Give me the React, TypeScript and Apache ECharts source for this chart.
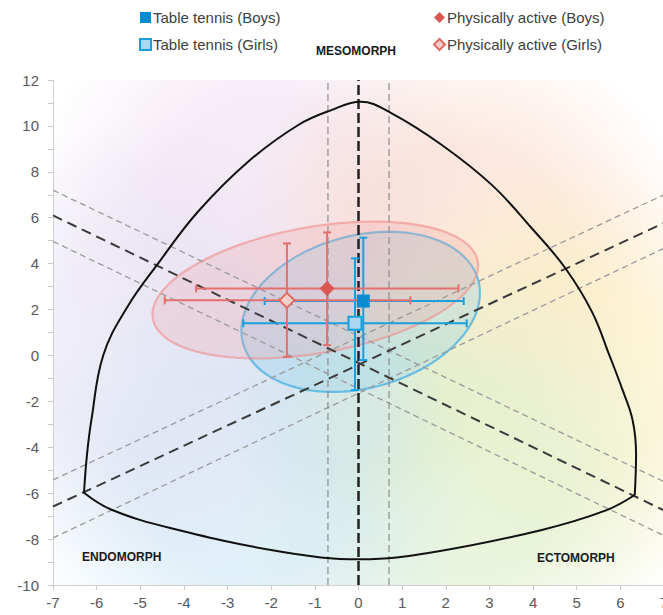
import React, { useEffect, useRef } from "react";
import * as echarts from "echarts";

// ---- group statistics (somatoplot X / Y) ----
const groupNames = [
  "Table tennis (Boys)",
  "Table tennis (Girls)",
  "Physically active (Boys)",
  "Physically active (Girls)",
];
const meanX = [0.11, -0.08, -0.72, -1.64];
const meanY = [2.37, 1.4, 2.92, 2.4];
const xLow = [-2.15, -2.64, -3.72, -4.44];
const xHigh = [2.41, 2.48, 2.29, 1.19];
const yLow = [-0.2, -1.51, 0.45, -0.06];
const yHigh = [5.13, 4.23, 5.36, 4.88];

// ---- dispersion ellipses ----
const ellipseCenterX = [0.05, -0.99];
const ellipseCenterY = [1.9, 2.85];
const ellipseSemiX = [2.79, 3.78];
const ellipseSemiY = [3.32, 2.75];
const ellipseTilt = [15, 10];

// ---- somatochart outline ----
const upperArc: [number, number][] = [
  [-6.29, -5.98], [-6.22, -4.3], [-6.12, -2.81], [-5.85, 0], [-5.3, 2.1],
  [-4.59, 4.01], [-3.68, 6.26], [-2.53, 8.44], [-1.38, 10.04], [-0.62, 10.69],
  [0.05, 11.05], [0.76, 10.55], [1.91, 9.17], [3.06, 7.42], [3.97, 5.54],
  [4.74, 3.8], [5.35, 1.9], [5.75, 0], [6.05, -1.5], [6.28, -2.81],
  [6.36, -4.3], [6.33, -6.08],
];
const lowerArc: [number, number][] = [
  [-6.29, -5.98], [-5.67, -6.71], [-4.29, -7.53], [-1.77, -8.55], [0.05, -8.88],
  [1.77, -8.55], [4.2, -7.6], [5.67, -6.75], [6.33, -6.08],
];

// ---- reference lines ----
const centreX = 0;
const bandX = [-0.7, 0.7];
const fallingLine: [number, number][] = [[-7, 6.1], [7, -6.75]];
const fallingBandUpper: [number, number][] = [[-7, 7.2], [7, -5.5]];
const fallingBandLower: [number, number][] = [[-7, 4.97], [7, -7.85]];
const risingLine: [number, number][] = [[-7, -6.58], [7, 5.77]];
const risingBandUpper: [number, number][] = [[-7, -5.42], [7, 7.0]];
const risingBandLower: [number, number][] = [[-7, -7.95], [7, 4.67]];

const X_MIN = -7, X_MAX = 7, Y_MIN = -10, Y_MAX = 12;

// ---- background tint blobs (centre x, centre y) ----
const tintX = [-2.2, 2.4, 4.6, 2.2, -2.6, -4.8, 0.6, -0.6];
const tintY = [6.5, 4.5, -1.2, -5.2, -5.2, 0.3, -2.5, -2.5];
const tintColors = [
  "rgba(238,220,238,0.55)",
  "rgba(250,214,198,0.55)",
  "rgba(252,240,192,0.6)",
  "rgba(222,240,208,0.65)",
  "rgba(208,232,244,0.65)",
  "rgba(226,222,242,0.5)",
  "rgba(226,240,200,0.5)",
  "rgba(206,228,240,0.5)",
];

const markerColors = ["#0a8ad0", "#a9d8f0", "#d95652", "#f7cfc9"];
const markerBorders = ["#0a8ad0", "#1a9fdc", "#d95652", "#e06a64"];
const barColors = ["#1a9fdc", "#1a9fdc", "#e46f6f", "#e46f6f"];

const FONT = "'Liberation Sans', Arial, sans-serif";

export default function App() {
  const ref = useRef<HTMLDivElement>(null);
  useEffect(() => {
    if (!ref.current) return;
    const chart = echarts.init(ref.current, null, { renderer: "svg" });

    const lineSeries = (data: [number, number][], color: string, width: number, dash: number[], z: number) => ({
      type: "line",
      data,
      symbol: "none",
      silent: true,
      z,
      lineStyle: { color, width, type: dash },
    });

    const scatterSeries = groupNames.map((name, i) => ({
      type: "scatter",
      name,
      z: 10,
      symbol: i < 2 ? "rect" : "diamond",
      symbolSize: i < 2 ? 13 : 15,
      itemStyle: {
        color: markerColors[i],
        borderColor: markerBorders[i],
        borderWidth: i === 1 || i === 3 ? 2 : 0,
        opacity: 1,
      },
      data: [[meanX[i], meanY[i]]],
    }));

    const legendBase = {
      orient: "vertical",
      top: 5,
      itemGap: 12,
      itemWidth: 11,
      itemHeight: 11,
      selectedMode: false,
      textStyle: { color: "#404040", fontSize: 15, fontFamily: FONT, padding: [0, 0, 0, -3] },
    };

    const labelFont = "bold 12px " + FONT;

    const option: any = {
      animation: false,
      grid: { left: 53, right: -1, top: 80, bottom: 30, containLabel: false, outerBoundsMode: "none" },
      xAxis: {
        type: "value",
        min: X_MIN,
        max: X_MAX,
        interval: 1,
        axisLine: { show: true, onZero: false, lineStyle: { color: "#d0d0d0" } },
        axisTick: { show: true, length: 5, lineStyle: { color: "#c8c8c8" } },
        splitLine: { show: false },
        axisLabel: { color: "#595959", fontSize: 15, fontFamily: FONT, margin: 10 },
      },
      yAxis: {
        type: "value",
        min: Y_MIN,
        max: Y_MAX,
        interval: 2,
        axisLine: { show: true, onZero: false, lineStyle: { color: "#d0d0d0" } },
        axisTick: { show: true, length: 5, lineStyle: { color: "#c8c8c8" } },
        minorTick: { show: true, splitNumber: 2, length: 5, lineStyle: { color: "#c8c8c8" } },
        splitLine: { show: false },
        axisLabel: { color: "#595959", fontSize: 15, fontFamily: FONT, margin: 14 },
      },
      legend: [
        { ...legendBase, left: 134, data: groupNames.slice(0, 2) },
        { ...legendBase, left: 428, data: groupNames.slice(2, 4) },
      ],
      graphic: {
        elements: [
          { type: "text", z: 100, left: 316, top: 45, style: { text: "MESOMORPH", font: labelFont, fill: "#1a1a1a" } },
          { type: "text", z: 100, left: 82, top: 551, style: { text: "ENDOMORPH", font: labelFont, fill: "#1a1a1a" } },
          { type: "text", z: 100, left: 537, top: 552, style: { text: "ECTOMORPH", font: labelFont, fill: "#1a1a1a" } },
        ],
      },
      series: [
        // background tint blobs
        {
          type: "custom",
          silent: true,
          z: 0,
          clip: true,
          data: tintX.map((x, i) => [x, tintY[i]]),
          encode: { x: 0, y: 1 },
          renderItem: (params: any, api: any) => {
            const c = api.coord([api.value(0), api.value(1)]);
            const r = params.dataIndex >= 6 ? 110 : 230;
            const col = tintColors[params.dataIndex];
            return {
              type: "circle",
              shape: { cx: c[0], cy: c[1], r },
              style: {
                fill: new echarts.graphic.RadialGradient(0.5, 0.5, 0.5, [
                  { offset: 0, color: col },
                  { offset: 0.45, color: col },
                  { offset: 1, color: col.replace(/[\d.]+\)$/, "0)") },
                ]),
                stroke: null,
              },
            };
          },
        },
        // ellipses
        {
          type: "custom",
          silent: true,
          z: 1,
          data: ellipseCenterX.map((x, i) => [x, ellipseCenterY[i], ellipseSemiX[i], ellipseSemiY[i], ellipseTilt[i]]),
          encode: { x: 0, y: 1 },
          renderItem: (params: any, api: any) => {
            const c = api.coord([api.value(0), api.value(1)]);
            const s = api.size([api.value(2), api.value(3)]);
            const th = (api.value(4) * Math.PI) / 180;
            const pts: number[][] = [];
            for (let k = 0; k < 120; k++) {
              const t = (2 * Math.PI * k) / 120;
              const px = s[0] * Math.cos(t);
              const py = s[1] * Math.sin(t);
              pts.push([c[0] + px * Math.cos(th) + py * Math.sin(th), c[1] - px * Math.sin(th) + py * Math.cos(th)]);
            }
            const blue = params.dataIndex === 0;
            return {
              type: "polygon",
              shape: { points: pts },
              style: {
                fill: blue ? "rgba(120,200,235,0.25)" : "rgba(240,160,160,0.25)",
                stroke: blue ? "rgba(70,175,225,0.75)" : "rgba(238,140,140,0.6)",
                lineWidth: 2.2,
              },
            };
          },
        },
        // reference lines
        lineSeries(fallingBandUpper, "#9a9a9a", 1.3, [6, 4], 2),
        lineSeries(fallingBandLower, "#9a9a9a", 1.3, [6, 4], 2),
        lineSeries(risingBandUpper, "#9a9a9a", 1.3, [6, 4], 2),
        lineSeries(risingBandLower, "#9a9a9a", 1.3, [6, 4], 2),
        lineSeries([[bandX[0], Y_MIN], [bandX[0], Y_MAX]], "#8c8c8c", 1.2, [7, 4], 2),
        lineSeries([[bandX[1], Y_MIN], [bandX[1], Y_MAX]], "#8c8c8c", 1.2, [7, 4], 2),
        lineSeries(fallingLine, "#3a3a3a", 2, [10, 6], 3),
        lineSeries(risingLine, "#3a3a3a", 2, [10, 6], 3),
        lineSeries([[centreX, Y_MIN], [centreX, Y_MAX]], "#222222", 2.5, [10, 4], 3),
        // outline
        {
          type: "line",
          data: upperArc,
          smooth: 0.4,
          symbol: "none",
          silent: true,
          z: 4,
          lineStyle: { color: "#111111", width: 2 },
        },
        {
          type: "line",
          data: lowerArc,
          smooth: 0.4,
          symbol: "none",
          silent: true,
          z: 4,
          lineStyle: { color: "#111111", width: 2 },
        },
        // error bars
        {
          type: "custom",
          silent: true,
          z: 6,
          data: meanX.map((x, i) => [x, meanY[i], xLow[i], xHigh[i], yLow[i], yHigh[i]]),
          encode: { x: [0, 2, 3], y: [1, 4, 5] },
          renderItem: (params: any, api: any) => {
            const l = api.coord([api.value(2), api.value(1)]);
            const r = api.coord([api.value(3), api.value(1)]);
            const b = api.coord([api.value(0), api.value(4)]);
            const t = api.coord([api.value(0), api.value(5)]);
            const style = { stroke: barColors[params.dataIndex], lineWidth: 2, fill: null };
            const cap = 4;
            const ln = (x1: number, y1: number, x2: number, y2: number) => ({
              type: "line",
              shape: { x1, y1, x2, y2 },
              style,
            });
            return {
              type: "group",
              children: [
                ln(l[0], l[1], r[0], r[1]),
                ln(b[0], b[1], t[0], t[1]),
                ln(l[0], l[1] - cap, l[0], l[1] + cap),
                ln(r[0], r[1] - cap, r[0], r[1] + cap),
                ln(b[0] - cap, b[1], b[0] + cap, b[1]),
                ln(t[0] - cap, t[1], t[0] + cap, t[1]),
              ],
            };
          },
        },
        ...scatterSeries,
      ],
    };
    chart.setOption(option);
    return () => chart.dispose();
  }, []);
  return (
    <div
      ref={ref}
      style={{ position: "fixed", left: 0, top: 0, width: 663, height: 615, background: "#ffffff" }}
    />
  );
}
